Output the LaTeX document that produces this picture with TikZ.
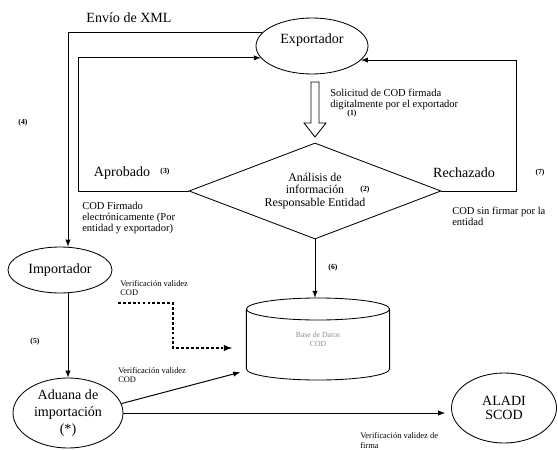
\documentclass[tikz,border=0pt]{standalone}
\usepackage{fontspec}
\setmainfont{Liberation Serif}
\usetikzlibrary{shapes.geometric}
\tikzset{
  actor/.style={draw, ellipse, line width=0.6pt, inner sep=0pt, align=center, font=\fontsize{10}{12}\selectfont},
  flow/.style={draw, line width=0.7pt, -latex},
  small/.style={align=left, inner sep=0pt, font=\fontsize{7.5}{7.5}\selectfont},
  tiny/.style={inner sep=0pt, font=\fontsize{5.5}{6}\selectfont\bfseries},
  label10/.style={inner sep=0pt, font=\fontsize{10}{12}\selectfont},
}

\begin{document}
\begin{tikzpicture}
\useasboundingbox (0,0) rectangle (13.95,11.225);
% actores
\node[actor, minimum width=2.8cm, minimum height=1.4cm, text depth=0.35cm] (exp) at (7.8,10.075) {Exportador};
\node[actor, minimum width=2.6cm, minimum height=1.15cm] (imp) at (1.5,4.475) {Importador};
\node[actor, minimum width=2.75cm, minimum height=1.75cm] (adu) at (1.7,0.9) {Aduana de\\importaci\'on\\(*)};
\node[actor, minimum width=2.625cm, minimum height=1.75cm, font=\fontsize{10}{10.5}\selectfont] (ala) at (12.6,1.025) {ALADI\\SCOD};
\node[draw, diamond, aspect=2.6, line width=0.6pt, inner sep=0pt, minimum width=6.3cm, minimum height=2.4cm, align=center, font=\fontsize{8.5}{9}\selectfont] (dec) at (7.875,6.45) {An\'alisis de\\informaci\'on\\Responsable Entidad};
\node[minimum width=3.58cm, minimum height=2.05cm, inner sep=0pt, align=center, text=black!45, font=\fontsize{5.5}{6.5}\selectfont] (bd) at (7.95,2.75) {Base de Datos\\COD};
% base de datos
\draw[line width=0.6pt] (6.16,3.5) -- (6.16,2.0) arc[start angle=180, end angle=360, x radius=1.79, y radius=0.275] -- (9.74,3.5);
\draw[line width=0.6pt] (7.95,3.5) ellipse [x radius=1.79, y radius=0.275];
% flecha hueca
\draw[line width=0.6pt] (7.775,9.175) -- (7.775,8.15) -- (7.6,8.15) -- (7.875,7.8) -- (8.15,8.15) -- (7.975,8.15) -- (7.975,9.175) -- cycle;
% conectores
\draw[flow] (exp.165) -| (imp.north -| adu.north);
\draw[flow] (dec.west) -- ++(-2.75,0) |- (exp.193);
\draw[flow] (dec.east) -- ++(1.875,0) |- (exp.344);
\draw[flow] (dec.south) -- (dec.south |- bd.north);
\draw[flow] (imp.south -| adu.north) -- (adu.north);
\coordinate (dv) at (2.95,3.65);
\draw[flow, dashed, dash pattern=on 2pt off 1.5pt, line width=1pt] (dv) -- (4.325,3.65) |- ([xshift=-0.35cm,yshift=-0.225cm]bd.west);
\draw[flow] (adu.10) -- ([xshift=-0.15cm,yshift=0.2cm]bd.south west);
\draw[flow] (adu.east) -- ([xshift=-0.15cm]adu.east -| ala.west);
% textos
\node[label10] (xml) at (3.225,10.775) {Env\'io de XML};
\node[label10] (apr) at (3.05,6.9) {Aprobado};
\node[label10] (rec) at (11.6,6.9) {Rechazado};
\node[small, anchor=west] (sol) at (8.25,8.74) {Solicitud de COD firmada\\digitalmente por el exportador};
\node[small, anchor=west] (cfe) at (2.05,5.775) {COD Firmado\\electr\'onicamente (Por\\entidad y exportador)};
\node[small, anchor=west] (csf) at (11.3,5.81) {COD sin firmar por la\\entidad};
\node[small, anchor=west, font=\fontsize{6}{7}\selectfont] (vi) at (3.0,4.025) {Verificaci\'on validez\\COD};
\node[small, anchor=west, font=\fontsize{6}{7}\selectfont] (va) at (2.95,1.85) {Verificaci\'on validez\\COD};
\node[small, anchor=north west, font=\fontsize{6}{7}\selectfont] (vf) at (9.0,0.425) {Verificaci\'on validez de\\firma};
\node[tiny] (n1) at (8.8,8.375) {(1)};
\node[tiny] (n2) at (9.125,6.475) {(2)};
\node[tiny] (n3) at (4.125,6.925) {(3)};
\node[tiny] (n4) at (0.575,8.15) {(4)};
\node[tiny] (n5) at (0.875,2.675) {(5)};
\node[tiny] (n6) at (8.325,4.525) {(6)};
\node[tiny] (n7) at (13.5,6.9) {(7)};
\end{tikzpicture}
\end{document}
